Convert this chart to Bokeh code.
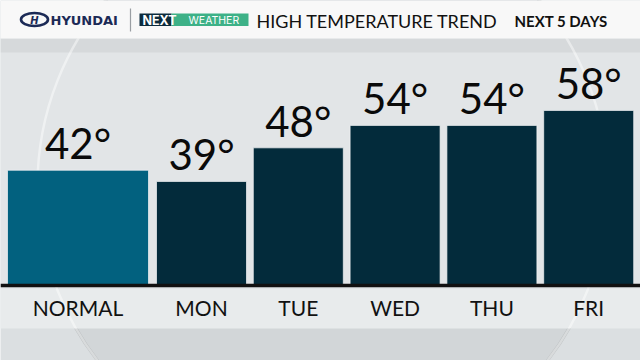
from bokeh.plotting import figure
from bokeh.models import Range1d
from bokeh.embed import file_html
from bokeh.resources import INLINE
from bokeh.core.properties import value

# ---- data ----
categories = ["NORMAL", "MON", "TUE", "WED", "THU", "FRI"]
highs = [42, 39, 48, 54, 54, 58]
title_text = "HIGH TEMPERATURE TREND"
subtitle_text = "NEXT 5 DAYS"

# ---- layout (screen-like coordinates, y grows downward) ----
W, H = 640, 360
p = figure(width=W, height=H, output_backend="svg", toolbar_location=None,
           x_range=Range1d(0, W), y_range=Range1d(H, 0), min_border=0)
p.axis.visible = False
p.grid.visible = False
p.outline_line_color = None
p.background_fill_color = "#DBDFE1"
p.border_fill_color = "#DBDFE1"

# temperature scale: baseline at pixel 285 ~ 11.2 deg, 3.74 px per degree
px_per_deg = 3.737
base_val = 11.16
p.extra_y_ranges = {"temp": Range1d(base_val - (H - 285) / px_per_deg,
                                    base_val + 285 / px_per_deg)}

# background sphere & panels
p.ellipse(x=[322], y=[185], width=[570], height=[570], fill_color="#D2D6D8",
          line_color="#B9BDBF", line_width=3)
p.quad(left=[0], right=[W], top=[38], bottom=[288], fill_color="#E2E5E7",
       line_color=None)
p.quad(left=[0], right=[W], top=[38], bottom=[52], fill_color="#D6D9DB",
       line_color=None)
p.quad(left=[0], right=[W], top=[288], bottom=[328], fill_color="#E8EBEC",
       line_color=None)
p.ellipse(x=[322], y=[185], width=[570], height=[570], fill_color=None,
          line_color="white", line_alpha=0.45, line_width=2.5)

# header
p.quad(left=[0], right=[W], top=[0], bottom=[38], fill_color="#F8F8F8",
       line_color=None)
navy = "#1B2A56"
p.ellipse(x=[34], y=[19], width=[27], height=[13], fill_color=None,
          line_color=navy, line_width=2.6)
p.text(x=[34], y=[19.5], text=["H"], text_font=value("DejaVu Sans"),
       text_font_style="bold italic", text_font_size="10px", text_color=navy,
       text_align="center", text_baseline="middle")
p.text(x=[50], y=[20], text=["HYUNDAI"], text_font=value("DejaVu Sans"),
       text_font_style="bold", text_font_size="13px", text_color=navy,
       text_align="left", text_baseline="middle")
p.segment(x0=[130], y0=[8], x1=[130], y1=[31], line_color="#9A9EA3", line_width=1.2)
p.quad(left=[139], right=[171], top=[13], bottom=[25.5], fill_color="#0D2B3C",
       line_color=None)
p.quad(left=[171], right=[248], top=[13], bottom=[25.5], fill_color="#3DB187",
       line_color=None)
p.text(x=[142], y=[19.5], text=["NEXT"], text_font=value("Inter"),
       text_font_style="bold", text_font_size="12.5px", text_color="white",
       text_align="left", text_baseline="middle")
p.text(x=[188], y=[19.7], text=["WEATHER"], text_font=value("Inter"),
       text_font_size="10.5px", text_color="white", text_align="left",
       text_baseline="middle")
p.text(x=[256], y=[20], text=[title_text], text_font=value("Lato"),
       text_font_size="18px", text_color="#111111", text_align="left",
       text_baseline="middle")
p.text(x=[514], y=[20], text=[subtitle_text], text_font=value("Lato"),
       text_font_style="bold", text_font_size="15px", text_color="#111111",
       text_align="left", text_baseline="middle")

# bars (positions computed from index)
normal_left, normal_w = 7, 141
day_left0, day_step, day_w = 156, 96.8, 90
centers, widths, colors = [], [], []
for i, c in enumerate(categories):
    if i == 0:
        centers.append(normal_left + normal_w / 2)
        widths.append(normal_w)
        colors.append("#02617F")
    else:
        left = day_left0 + (i - 1) * day_step
        centers.append(left + day_w / 2)
        widths.append(day_w)
        colors.append("#032B3B")

p.vbar(x=centers, width=widths, top=highs, bottom=base_val, fill_color=colors,
       line_color="#F2F4F5", line_width=1, line_alpha=0.7, y_range_name="temp")

# value labels
p.text(x=centers, y=highs, text=[f"{v}°" for v in highs], y_range_name="temp",
       y_offset=-2, text_font=value("Lato"), text_font_size="42px",
       text_color="#0A0A0A", text_align="center", text_baseline="bottom")

# baseline
p.segment(x0=[0], y0=[base_val], x1=[W], y1=[base_val], y_range_name="temp",
          line_color="#111111", line_width=3.5)

# category labels
p.text(x=centers, y=[307] * len(categories), text=categories,
       text_font=value("Lato"), text_font_size="21px", text_color="#111111",
       text_align="center", text_baseline="middle")

open("out.html", "w").write(file_html(p, INLINE))
